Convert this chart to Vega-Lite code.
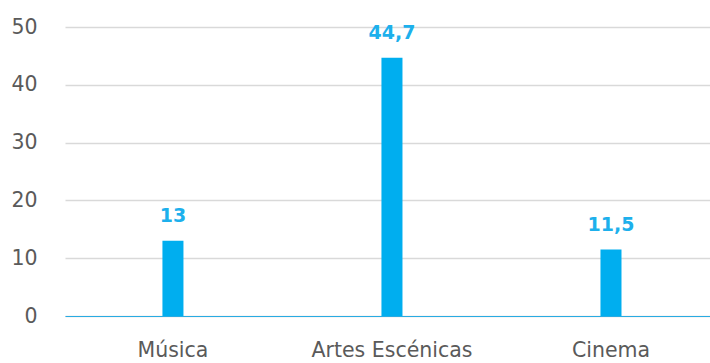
{
  "$schema": "https://vega.github.io/schema/vega-lite/v6.json",
  "autosize": {"type": "none"},
  "padding": {"left": 65, "top": 27, "right": 0, "bottom": 47},
  "width": 645,
  "height": 289,
  "background": "white",
  "data": {"values": [
    {"categoria": "Música", "valor": 13, "rotulo": "13"},
    {"categoria": "Artes Escénicas", "valor": 44.7, "rotulo": "44,7"},
    {"categoria": "Cinema", "valor": 11.5, "rotulo": "11,5"}
  ]},
  "config": {
    "view": {"stroke": null},
    "font": "DejaVu Sans"
  },
  "encoding": {
    "x": {
      "field": "categoria", "type": "nominal", "sort": null,
      "scale": {"paddingInner": 0.904, "paddingOuter": 0.4245, "align": 0.524},
      "axis": {
        "title": null, "labelAngle": 0, "ticks": false,
        "domain": true, "domainColor": "#29ABE2", "domainWidth": 1,
        "labelFontSize": 20.5, "labelColor": "#5a5a5a", "labelPadding": 24,
        "labelFont": "DejaVu Sans", "labelFontWeight": "normal"
      }
    },
    "y": {
      "field": "valor", "type": "quantitative",
      "scale": {"domain": [0, 50], "nice": false},
      "axis": {
        "title": null, "values": [0, 10, 20, 30, 40, 50],
        "ticks": false, "domain": false,
        "gridColor": "#d9d9d9", "gridWidth": 1.5,
        "labelFontSize": 20.5, "labelColor": "#5a5a5a", "labelPadding": 28,
        "labelFont": "DejaVu Sans", "labelFontWeight": "normal"
      }
    }
  },
  "layer": [
    {"mark": {"type": "bar", "color": "#00AEEF"}},
    {
      "mark": {"type": "text", "color": "#1DB0EC", "fontSize": 19, "fontWeight": "bold", "baseline": "alphabetic", "dy": -19, "font": "DejaVu Sans"},
      "encoding": {"text": {"field": "rotulo"}}
    }
  ]
}
